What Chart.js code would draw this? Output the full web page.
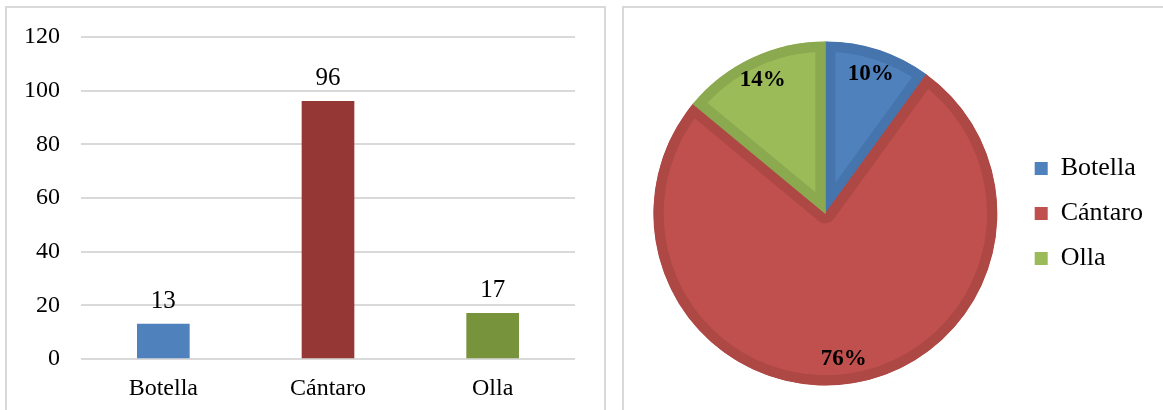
<!DOCTYPE html>
<html>
<head>
<meta charset="utf-8">
<script src="https://cdn.jsdelivr.net/npm/chart.js@4/dist/chart.umd.min.js"></script>
<style>
  html, body { margin: 0; padding: 0; background: #fff; overflow: hidden; }
  #page { position: relative; width: 1163px; height: 410px; }
  .panel { position: absolute; border: 2px solid #d9d9d9; box-sizing: border-box; }
  #leftPanel { left: 5px; top: 6px; width: 601px; height: 430px; }
  #rightPanel { left: 622px; top: 6px; width: 580px; height: 430px; }
  canvas { position: absolute; top: 0; }
  #barCanvas { left: 0; }
  #pieCanvas { left: 620px; }
</style>
</head>
<body>
<div id="page">
  <div class="panel" id="leftPanel"></div>
  <div class="panel" id="rightPanel"></div>
  <canvas id="barCanvas" width="610" height="410"></canvas>
  <canvas id="pieCanvas" width="543" height="410"></canvas>
</div>
<script>
// Recipientes usados para almacenar agua
const categories = ['Botella', 'Cántaro', 'Olla'];
const counts = [13, 96, 17];
const percents = [10, 76, 14];
const yTicks = [0, 20, 40, 60, 80, 100, 120];

const barColors = ['#4f81bd', '#953735', '#77933c'];
const pieFill = ['#4f81bd', '#c0504d', '#9bbb59'];
const pieBorder = ['#4674ad', '#ad4845', '#8ba94e'];

const SERIF = '"Liberation Serif", "Times New Roman", serif';
Chart.defaults.font.family = SERIF;
Chart.defaults.color = '#000';

// value printed above each bar
const barValueLabels = {
  id: 'barValueLabels',
  afterDatasetsDraw(chart) {
    const ctx = chart.ctx;
    const meta = chart.getDatasetMeta(0);
    ctx.save();
    ctx.font = '25px ' + SERIF;
    ctx.fillStyle = '#000';
    ctx.textAlign = 'center';
    ctx.textBaseline = 'alphabetic';
    meta.data.forEach((bar, i) => {
      ctx.fillText(String(counts[i]), bar.x, bar.y - 16);
    });
    ctx.restore();
  }
};

new Chart(document.getElementById('barCanvas'), {
  type: 'bar',
  data: {
    labels: categories,
    datasets: [{
      data: counts,
      backgroundColor: barColors,
      borderWidth: 0,
      barThickness: 52
    }]
  },
  options: {
    responsive: false,
    animation: false,
    layout: { padding: { left: 0, right: 35, top: 37, bottom: 0 } },
    plugins: { legend: { display: false }, tooltip: { enabled: false } },
    scales: {
      x: {
        grid: { display: false, drawTicks: false },
        border: { display: false },
        ticks: { font: { size: 24 }, padding: 15, color: '#000' },
        afterFit(scale) { scale.height = 51; }
      },
      y: {
        min: 0,
        max: yTicks[yTicks.length - 1],
        afterBuildTicks(scale) { scale.ticks = yTicks.map(v => ({ value: v })); },
        grid: { color: '#d9d9d9', lineWidth: 2, drawTicks: false },
        border: { display: false },
        ticks: { font: { size: 24 }, padding: 21, color: '#000' },
        afterFit(scale) { scale.width = 81; }
      }
    }
  },
  plugins: [barValueLabels]
});

// percentage text inside each slice
const sliceLabels = {
  id: 'sliceLabels',
  afterDatasetsDraw(chart) {
    const ctx = chart.ctx;
    const meta = chart.getDatasetMeta(0);
    ctx.save();
    ctx.font = 'bold 23px ' + SERIF;
    ctx.fillStyle = '#000';
    ctx.textAlign = 'center';
    ctx.textBaseline = 'middle';
    meta.data.forEach((arc, i) => {
      const mid = (arc.startAngle + arc.endAngle) / 2;
      const r = arc.outerRadius * 0.855;
      ctx.fillText(percents[i] + '%', arc.x + Math.cos(mid) * r, arc.y + Math.sin(mid) * r);
    });
    ctx.restore();
  }
};

new Chart(document.getElementById('pieCanvas'), {
  type: 'pie',
  data: {
    labels: categories,
    datasets: [{
      data: percents,
      backgroundColor: pieFill,
      borderColor: pieBorder,
      borderWidth: 10,
      borderAlign: 'inner',
      radius: 172
    }]
  },
  options: {
    responsive: false,
    animation: false,
    layout: { padding: { left: 15, right: 10, top: 30, bottom: 13 } },
    plugins: {
      tooltip: { enabled: false },
      legend: {
        position: 'right',
        align: 'center',
        labels: {
          boxWidth: 13,
          boxHeight: 13,
          padding: 19,
          color: '#000',
          font: { size: 26 },
          generateLabels(chart) {
            return chart.data.labels.map((label, i) => ({
              text: label,
              fillStyle: pieFill[i],
              strokeStyle: pieFill[i],
              lineWidth: 0,
              hidden: false,
              index: i
            }));
          }
        }
      }
    }
  },
  plugins: [sliceLabels]
});
</script>
</body>
</html>
